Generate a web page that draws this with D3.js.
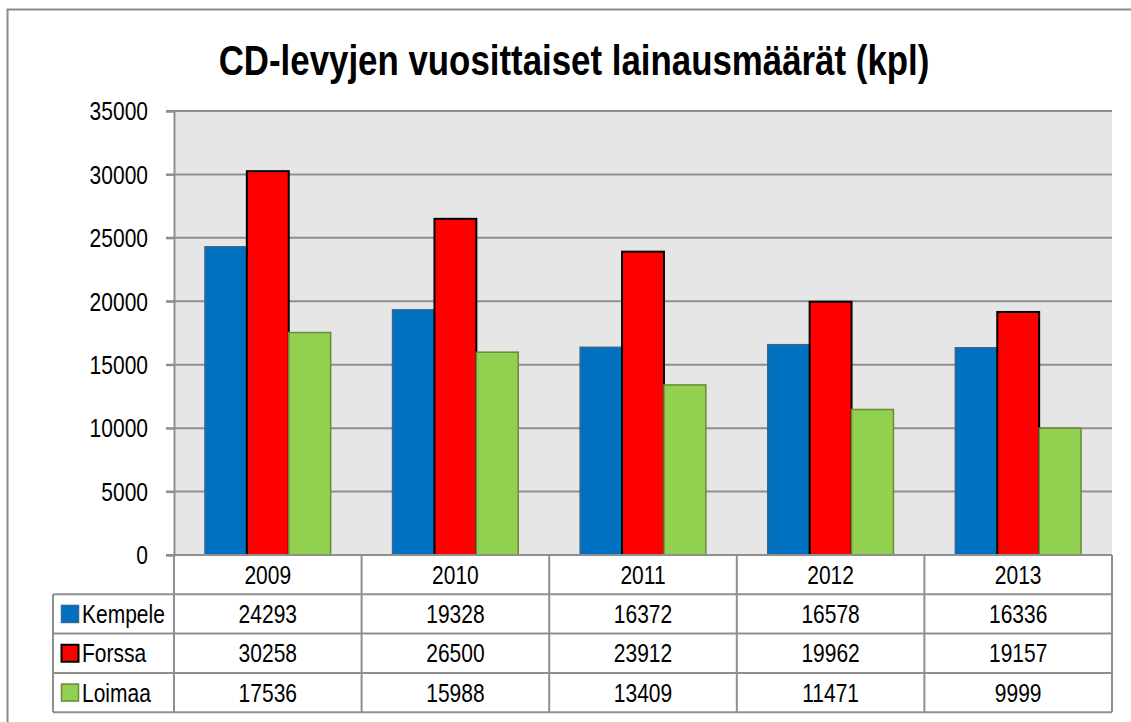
<!DOCTYPE html>
<html>
<head>
<meta charset="utf-8">
<script src="https://cdn.jsdelivr.net/npm/d3@7"></script>
<style>
  body { margin: 0; background: #fff; }
  svg text { font-family: "Liberation Sans", Arial, sans-serif; fill: #000; }
</style>
</head>
<body>
<div id="chart"></div>
<script>
var years = ["2009", "2010", "2011", "2012", "2013"];
var seriesNames = ["Kempele", "Forssa", "Loimaa"];
var kempele = [24293, 19328, 16372, 16578, 16336];
var forssa = [30258, 26500, 23912, 19962, 19157];
var loimaa = [17536, 15988, 13409, 11471, 9999];
var yTicks = [0, 5000, 10000, 15000, 20000, 25000, 30000, 35000];

var seriesValues = [kempele, forssa, loimaa];
var fills = ["#0070C0", "#FF0000", "#92D050"];
var strokes = ["#3a6592", "#000000", "#6a8a38"];

var width = 1131, height = 722;
var plot = { left: 174, right: 1112, top: 111, bottom: 555 };
var rowH = 39.3;
var legendLeft = 53;
var narrow = 0.84; // squeeze to look like Arial Narrow

var svg = d3.select("#chart").append("svg")
    .attr("width", width)
    .attr("height", height);

// narrow text helper
function ntext(parent, x, y, str, size, anchor) {
    return parent.append("text")
        .attr("transform", "translate(" + x + "," + y + ") scale(" + narrow + ",1)")
        .attr("dy", "0.36em")
        .attr("text-anchor", anchor || "start")
        .attr("font-size", size)
        .text(str);
}

// outer chart border (runs past right and bottom edge)
svg.append("rect")
    .attr("x", 7.5).attr("y", 9.5)
    .attr("width", 1140).attr("height", 730)
    .attr("fill", "none")
    .attr("stroke", "#8c8c8c")
    .attr("stroke-width", 2);

svg.append("text")
    .attr("transform", "translate(574,75) scale(0.83,1)")
    .attr("text-anchor", "middle")
    .attr("font-size", "42px")
    .attr("font-weight", "bold")
    .text("CD-levyjen vuosittaiset lainausmäärät (kpl)");

var x = d3.scaleBand()
    .domain(years)
    .range([plot.left, plot.right])
    .padding(0);

var xs = d3.scaleBand()
    .domain(seriesNames)
    .range([x.bandwidth() * 0.165, x.bandwidth() * 0.835]);

var y = d3.scaleLinear()
    .domain([0, 35000])
    .range([plot.bottom, plot.top]);

svg.append("rect")
    .attr("x", plot.left).attr("y", plot.top)
    .attr("width", plot.right - plot.left)
    .attr("height", plot.bottom - plot.top)
    .attr("fill", "#e6e6e6");

// gridlines
svg.append("g")
    .selectAll("line")
    .data(yTicks)
    .enter().append("line")
    .attr("x1", plot.left - 8)
    .attr("x2", plot.right)
    .attr("y1", function (d) { return y(d); })
    .attr("y2", function (d) { return y(d); })
    .attr("stroke", "#8f8f8f")
    .attr("stroke-width", 2);

var yAxis = svg.append("g")
    .attr("transform", "translate(" + plot.left + ",0)")
    .call(d3.axisLeft(y).tickValues(yTicks).tickSize(8).tickPadding(18).tickFormat(d3.format("d")));
yAxis.select(".domain").attr("stroke", "#8f8f8f").attr("stroke-width", 2);
yAxis.selectAll(".tick line").attr("stroke", "#8f8f8f").attr("stroke-width", 2);
yAxis.selectAll(".tick text")
    .attr("font-size", "25px")
    .attr("font-family", null)
    .attr("x", -26 / narrow)
    .attr("transform", "scale(" + narrow + ",1)")
    .attr("dy", "0.35em");

// bars
var groups = svg.append("g").selectAll("g")
    .data(years)
    .enter().append("g")
    .attr("transform", function (d) { return "translate(" + x(d) + ",0)"; });

groups.selectAll("rect")
    .data(function (d, i) {
        return seriesNames.map(function (s, j) { return { s: s, j: j, v: seriesValues[j][i] }; });
    })
    .enter().append("rect")
    .attr("x", function (d) { return xs(d.s); })
    .attr("y", function (d) { return y(d.v); })
    .attr("width", xs.bandwidth())
    .attr("height", function (d) { return y(0) - y(d.v); })
    .attr("fill", function (d) { return fills[d.j]; })
    .attr("stroke", function (d) { return strokes[d.j]; })
    .attr("stroke-width", function (d) { return d.j === 1 ? 2 : 1.5; });

// data table
var table = svg.append("g");
var tableBottom = plot.bottom + rowH * 4;
var gridColor = "#8f8f8f";

for (var r = 1; r <= 4; r++) {
    table.append("line")
        .attr("x1", legendLeft).attr("x2", plot.right)
        .attr("y1", plot.bottom + rowH * r).attr("y2", plot.bottom + rowH * r)
        .attr("stroke", gridColor).attr("stroke-width", 2);
}
table.append("line")
    .attr("x1", plot.left).attr("x2", plot.right)
    .attr("y1", plot.bottom).attr("y2", plot.bottom)
    .attr("stroke", gridColor).attr("stroke-width", 2);

var cuts = years.map(function (d) { return x(d); }).concat([plot.right]);
table.selectAll(".vline")
    .data(cuts)
    .enter().append("line")
    .attr("x1", function (d) { return d; })
    .attr("x2", function (d) { return d; })
    .attr("y1", plot.bottom)
    .attr("y2", tableBottom)
    .attr("stroke", gridColor).attr("stroke-width", 2);
table.append("line")
    .attr("x1", legendLeft).attr("x2", legendLeft)
    .attr("y1", plot.bottom + rowH).attr("y2", tableBottom)
    .attr("stroke", gridColor).attr("stroke-width", 2);

// category labels
years.forEach(function (d) {
    ntext(table, x(d) + x.bandwidth() / 2, plot.bottom + rowH / 2, d, "25px", "middle");
});

seriesNames.forEach(function (s, j) {
    var cy = plot.bottom + rowH * (j + 1) + rowH / 2;
    table.append("rect")
        .attr("x", 61.5).attr("y", cy - 8.5)
        .attr("width", 17).attr("height", 17)
        .attr("fill", fills[j])
        .attr("stroke", strokes[j])
        .attr("stroke-width", j === 1 ? 2 : 1.5);
    ntext(table, 82, cy, s, "25px", "start");
    seriesValues[j].forEach(function (v, i) {
        ntext(table, x(years[i]) + x.bandwidth() / 2, cy, v, "25px", "middle");
    });
});
</script>
</body>
</html>
